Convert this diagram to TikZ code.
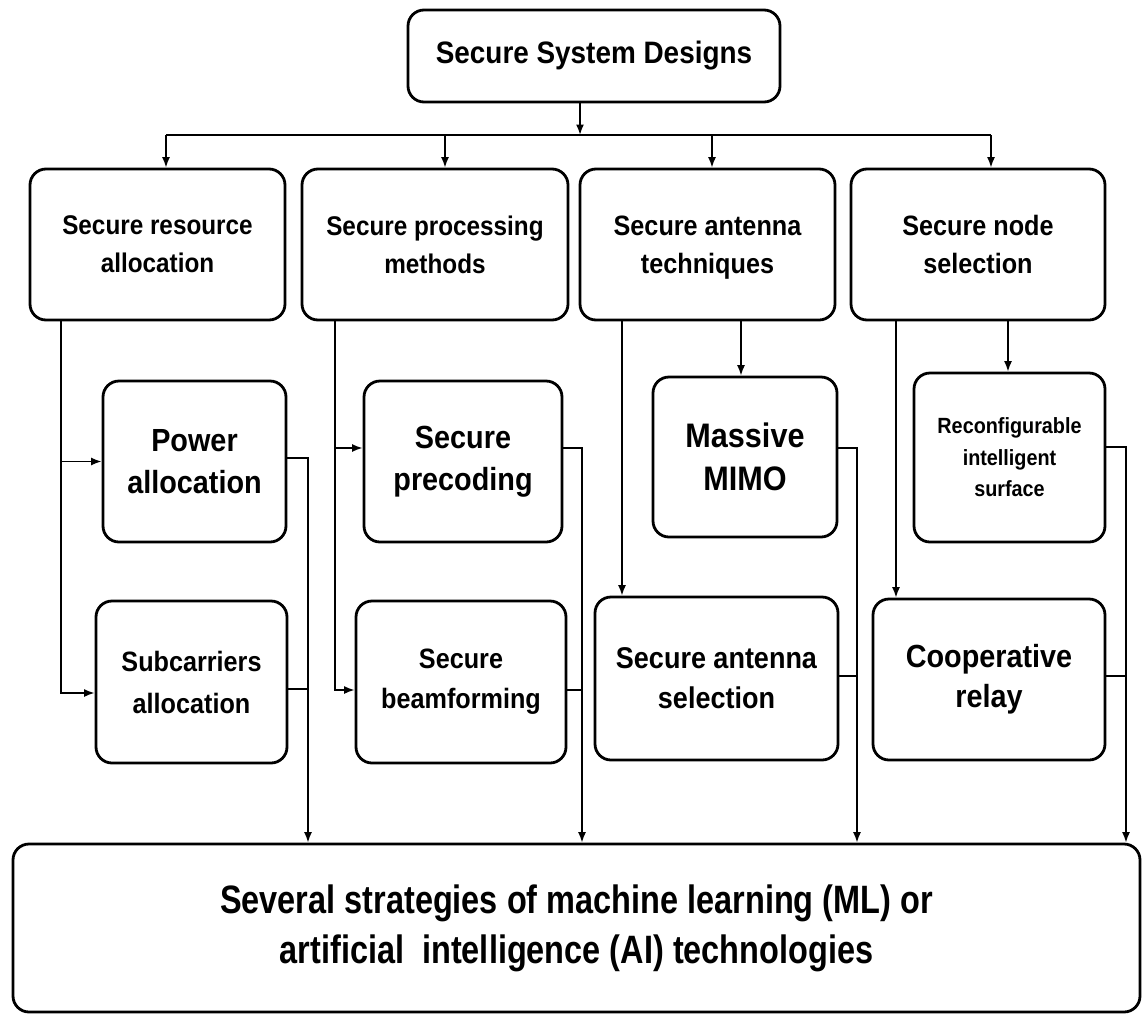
\documentclass[tikz,border=0pt]{standalone}
\usepackage{fontspec}
\setmainfont{Liberation Sans}[FakeStretch=0.9]
\newfontfamily\botfont{Liberation Sans}[FakeStretch=0.82]
\usetikzlibrary{arrows.meta}
\newcommand\bxfont[2]{\bfseries\fontsize{#1}{#2}\selectfont}
\begin{document}
\begin{tikzpicture}[x=1pt,y=-1pt,
  box/.style={draw,line width=2.8pt,rounded corners=16pt,align=center,inner sep=0pt,fill=white},
  conn/.style={line width=1.7pt},
  arr/.style={conn,-{Latex[length=10.5pt,width=8pt]}}]
\useasboundingbox[fill=white] (0,0) rectangle (1145,1015);

% nodes
\node[box,minimum width=372pt,minimum height=92pt,font=\bxfont{31}{36}] (top) at (594,56) {Secure System Designs};

\node[box,minimum width=255pt,minimum height=151pt,font=\bxfont{27}{38}] (b1) at (157.5,244.5) {Secure resource\\allocation};
\node[box,minimum width=266pt,minimum height=151pt,font=\bxfont{27}{38}] (b2) at (435,244.5) {Secure processing\\methods};
\node[box,minimum width=255pt,minimum height=151pt,font=\bxfont{28}{38}] (b3) at (707.5,244.5) {\strut Secure antenna\\techniques};
\node[box,minimum width=254pt,minimum height=151pt,font=\bxfont{28}{38}] (b4) at (978,244.5) {Secure node\\selection};

\node[box,minimum width=183pt,minimum height=161pt,font=\bxfont{32}{42}] (pa) at (194.5,461.5) {Power\\allocation};
\node[box,minimum width=191pt,minimum height=162pt,font=\bxfont{28}{42}] (sa) at (191.5,682) {Subcarriers\\allocation};
\node[box,minimum width=198pt,minimum height=161pt,font=\bxfont{32}{42}] (sp) at (463,461.5) {Secure\\precoding};
\node[box,minimum width=210pt,minimum height=162pt,font=\bxfont{28}{40}] (sb) at (461,682) {Secure\\beamforming};
\node[box,minimum width=184pt,minimum height=160pt,font=\bxfont{34}{43}] (mm) at (745,457) {Massive\\MIMO};
\node[box,minimum width=243pt,minimum height=163pt,font=\bxfont{30}{40}] (as) at (716.5,678.5) {Secure antenna\\selection};
\node[box,minimum width=191pt,minimum height=169pt,font=\bxfont{22}{31.5}] (ris) at (1009.5,457.5) {Reconfigurable\\intelligent\\surface};
\node[box,minimum width=232pt,minimum height=161pt,font=\bxfont{32}{40}] (cr) at (989,679.5) {Cooperative\\relay};

\node[box,minimum width=1127pt,minimum height=168pt,font=\botfont\bfseries\fontsize{39.6}{50}\selectfont] (bot) at (576.5,928) {Several strategies of machine learning (ML) or\\artificial\ \ intelligence (AI) technologies};

% helper coordinates
\coordinate (bus) at (580,135);
\coordinate (c1) at (166,0);
\coordinate (c2) at (445,0);
\coordinate (c3) at (712,0);
\coordinate (c4) at (991,0);
\coordinate (d1) at (61,0);
\coordinate (d2) at (335,0);
\coordinate (d3) at (622,0);
\coordinate (d4) at (896,0);
\coordinate (e3) at (741,0);
\coordinate (e4) at (1008,0);
\coordinate (f1) at (308,0);
\coordinate (f2) at (582,0);
\coordinate (f3) at (857,0);
\coordinate (f4) at (1126,0);

% top distribution
\draw[arr] (top.south -| bus) -- (bus);
\draw[conn] (bus -| c1) -- (bus -| c4);
\draw[arr] (bus -| c1) -- (b1.north -| c1);
\draw[arr] (bus -| c2) -- (b2.north -| c2);
\draw[arr] (bus -| c3) -- (b3.north -| c3);
\draw[arr] (bus -| c4) -- (b4.north -| c4);

% column 1
\coordinate (sain) at ([yshift=-11pt]sa.west);
\draw[arr] (b1.south -| d1) |- (sain);
\draw[arr] (pa.west -| d1) -- (pa.west);
% column 2
\coordinate (sbin) at ([yshift=-8pt]sb.west);
\coordinate (spin) at ([yshift=13.5pt]sp.west);
\draw[arr] (b2.south -| d2) |- (sbin);
\draw[arr] (spin -| d2) -- (spin);
% column 3
\draw[arr] (b3.south -| d3) -- (as.north -| d3);
\draw[arr] (b3.south -| e3) -- (mm.north -| e3);
% column 4
\draw[arr] (b4.south -| d4) -- (cr.north -| d4);
\draw[arr] (b4.south -| e4) -- (ris.north -| e4);

% outputs to bottom
\coordinate (paout) at ([yshift=3.5pt]pa.east);
\coordinate (saout) at ([yshift=-7pt]sa.east);
\draw[arr] (paout) -| (bot.north -| f1);
\draw[conn] (saout) -- (saout -| f1);

\coordinate (spout) at ([yshift=13.5pt]sp.east);
\coordinate (sbout) at ([yshift=-8pt]sb.east);
\draw[arr] (spout) -| (bot.north -| f2);
\draw[conn] (sbout) -- (sbout -| f2);

\coordinate (mmout) at ([yshift=9pt]mm.east);
\coordinate (asout) at ([yshift=2.5pt]as.east);
\draw[arr] (mmout) -| (bot.north -| f3);
\draw[conn] (asout) -- (asout -| f3);

\coordinate (risout) at ([yshift=10.5pt]ris.east);
\coordinate (crout) at ([yshift=3.5pt]cr.east);
\draw[arr] (risout) -| (bot.north -| f4);
\draw[conn] (crout) -- (crout -| f4);
\end{tikzpicture}
\end{document}
